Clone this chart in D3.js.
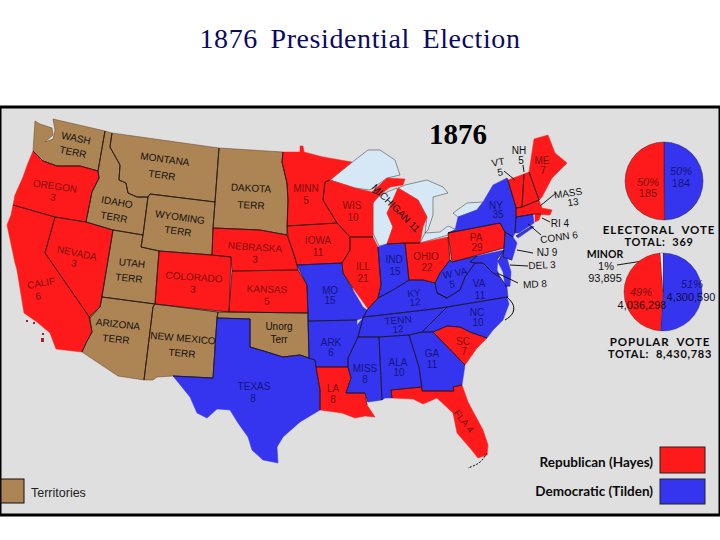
<!DOCTYPE html>
<html>
<head>
<meta charset="utf-8">
<title>1876 Presidential Election</title>
<script src="https://cdnjs.cloudflare.com/ajax/libs/d3/7.8.5/d3.min.js"></script>
<style>
  html, body { margin: 0; padding: 0; background: #fff; }
  svg { display: block; }
  text { font-family: "Liberation Sans", sans-serif; }
</style>
</head>
<body>
<svg id="chart" width="720" height="540"></svg>
<script>
// party per state, electoral votes, from the map
var republican = ['OREGON', 'CALIF', 'NEVADA', 'COLORADO', 'NEBRASKA', 'KANSAS', 'MINN', 'IOWA', 'WIS', 'ILL', 'MICHIGAN', 'UPPERMICH', 'OHIO', 'PA', 'VT', 'NH', 'ME', 'MASS', 'RI', 'SC', 'LA', 'FLA'];
var democratic = ['TEXAS', 'MO', 'ARK', 'MISS', 'ALA', 'GA', 'TENN', 'KY', 'IND', 'WVA', 'VA', 'NC', 'NY', 'LONGISLAND', 'NJ', 'CONN', 'DEL', 'MD'];
var territories = ['WASH', 'IDAHO', 'MONTANA', 'DAKOTA', 'WYOMING', 'UTAH', 'ARIZONA', 'NEWMEXICO', 'UNORG'];

var electoralVotes = [184, 185];
var popularVotes = [4300590, 4036298, 93895];

// outlines are in map units
var lakes = [
  [[330,180],[345,168],[355,160],[368,150],[380,150],[395,160],[400,175],[387,178],[370,190],[355,188]],
  [[373,200],[387,192],[397,188],[398,195],[387,213],[393,227],[387,244],[379,246],[373,233],[373,210]],
  [[398,188],[405,185],[427,180],[443,187],[448,193],[433,197],[433,215],[428,230],[425,233],[427,217],[418,200]],
  [[420,243],[425,233],[440,232],[448,226],[457,230],[448,235]],
  [[453,213],[467,203],[483,202],[477,210],[458,217]]
];

var outlines = {
  WASH: [[35,121],[40,124],[52,128],[53,135],[45,142],[53,139],[55,130],[53,119],[105,131],[98,171],[80,166],[57,166],[43,161],[33,151]],
  OREGON: [[33,151],[43,161],[57,166],[80,166],[98,171],[99,178],[92,192],[86,222],[55,217],[13,205],[15,195],[23,177],[28,163]],
  CALIF: [[13,205],[55,217],[45,253],[90,318],[92,332],[86,343],[82,352],[56,349],[50,333],[37,322],[24,313],[17,270],[15,263],[7,225],[11,215]],
  NEVADA: [[55,217],[86,222],[113,230],[100,307],[90,318],[45,253]],
  IDAHO: [[105,131],[112,133],[110,147],[120,165],[119,180],[126,183],[128,193],[137,197],[148,197],[143,235],[113,230],[86,222],[92,192],[99,178],[98,171]],
  MONTANA: [[112,133],[219,148],[215,202],[150,194],[148,197],[137,197],[128,193],[126,183],[119,180],[120,165],[110,147]],
  DAKOTA: [[219,148],[283,152],[282,162],[287,183],[288,200],[287,235],[260,230],[213,228],[215,202]],
  WYOMING: [[150,194],[215,202],[213,228],[212,255],[159,251],[141,247],[143,235],[148,197]],
  UTAH: [[113,230],[143,235],[141,247],[159,251],[155,304],[102,297]],
  COLORADO: [[159,251],[212,255],[231,257],[229,312],[155,304]],
  NEBRASKA: [[213,228],[260,230],[287,235],[295,257],[298,270],[232,271],[231,257],[212,255]],
  KANSAS: [[232,271],[298,270],[307,285],[308,313],[229,312]],
  ARIZONA: [[102,297],[155,304],[153,307],[144,380],[118,376],[82,352],[86,343],[92,332],[89,317],[100,307]],
  NEWMEXICO: [[155,304],[218,312],[217,318],[213,378],[173,376],[157,377],[153,380],[144,380],[153,307]],
  UNORG: [[218,312],[229,312],[308,313],[309,358],[300,355],[283,357],[267,352],[250,347],[250,319],[217,318]],
  TEXAS: [[217,318],[250,319],[250,347],[267,352],[283,357],[300,355],[309,358],[315,360],[316,367],[320,390],[320,410],[300,422],[283,437],[277,447],[278,463],[263,460],[252,450],[248,437],[238,423],[230,410],[217,409],[207,418],[197,413],[190,397],[173,376],[213,378]],
  MINN: [[283,152],[300,152],[300,146],[303,146],[304,152],[323,157],[352,162],[330,180],[325,182],[323,200],[337,223],[287,226],[288,200],[287,183],[282,162]],
  WIS: [[325,182],[330,180],[355,188],[372,192],[380,195],[373,203],[373,237],[350,237],[337,223],[323,200]],
  IOWA: [[287,226],[337,223],[350,237],[350,250],[342,263],[297,265],[288,237]],
  MO: [[297,265],[342,263],[343,273],[353,290],[363,307],[367,310],[363,318],[357,320],[308,321],[308,313],[307,285]],
  ARK: [[308,321],[357,320],[357,325],[363,318],[358,337],[348,358],[348,367],[316,367],[315,360],[309,358]],
  LA: [[316,367],[348,367],[351,378],[346,393],[365,393],[367,405],[375,417],[365,416],[355,418],[342,413],[320,410],[320,390]],
  MISS: [[358,337],[379,337],[382,400],[368,402],[365,393],[346,393],[351,378],[348,367],[348,358]],
  ALA: [[379,337],[409,335],[419,367],[422,387],[391,390],[392,398],[385,398],[382,400]],
  TENN: [[364,317],[425,310],[447,307],[422,332],[409,335],[379,337],[358,337],[363,318]],
  GA: [[409,335],[422,332],[433,332],[465,365],[462,385],[453,387],[454,391],[422,391],[419,367]],
  SC: [[433,332],[447,326],[460,327],[470,332],[487,338],[477,348],[465,365]],
  NC: [[447,307],[507,297],[509,304],[503,320],[493,330],[487,338],[470,332],[460,327],[447,326],[433,332],[422,332]],
  FLA: [[391,390],[422,387],[422,391],[454,391],[453,387],[462,385],[468,402],[483,430],[488,445],[487,455],[478,458],[470,448],[457,433],[453,413],[437,398],[423,404],[413,399],[392,398]],
  KY: [[363,318],[367,310],[378,298],[393,290],[409,280],[423,280],[435,283],[437,293],[447,298],[425,310],[364,317]],
  ILL: [[350,237],[373,237],[378,247],[381,285],[378,298],[368,309],[363,302],[353,288],[343,273],[342,263],[350,250]],
  IND: [[378,247],[387,244],[405,243],[409,280],[393,290],[378,298],[381,285]],
  OHIO: [[405,243],[420,243],[448,237],[450,260],[440,273],[435,283],[423,280],[409,280]],
  PA: [[448,233],[500,223],[505,232],[504,248],[452,262]],
  NY: [[455,230],[458,217],[477,210],[483,202],[493,185],[507,178],[516,207],[516,217],[515,233],[513,237],[505,232],[500,223],[448,233]],
  LONGISLAND: [[516,236],[532,226],[534,227],[518,238]],
  NJ: [[505,232],[513,237],[517,243],[512,260],[503,257],[504,248]],
  WVA: [[450,260],[452,262],[477,256],[470,262],[475,263],[465,277],[460,290],[447,298],[437,293],[435,283],[440,273]],
  VA: [[437,293],[447,298],[460,290],[465,277],[475,263],[483,263],[493,273],[500,277],[507,287],[508,297],[507,297],[447,307],[425,310]],
  MD: [[477,256],[504,250],[498,258],[497,270],[500,277],[493,273],[483,263],[475,263],[470,262]],
  DEL: [[504,250],[507,258],[511,272],[510,286],[505,286],[503,272],[498,262]],
  VT: [[508,180],[524,174],[522,207],[516,208]],
  NH: [[524,174],[529,172],[539,200],[522,207]],
  ME: [[529,172],[534,139],[548,135],[555,153],[567,163],[552,178],[542,197],[539,200]],
  MASS: [[516,208],[522,207],[539,200],[542,208],[552,210],[550,215],[535,214],[516,217]],
  CONN: [[516,217],[533,214],[534,223],[519,233],[515,233]],
  RI: [[535,214],[541,214],[539,220],[535,222]],
  UPPERMICH: [[372,192],[387,178],[405,179],[403,185],[390,187],[380,195]],
  MICHIGAN: [[387,213],[398,188],[418,200],[427,217],[423,227],[420,243],[405,243],[387,244],[393,227]]
};

var islands = [
  [[26,320],[28,320],[28,322],[26,322]],
  [[33,322],[35,322],[35,324],[33,324]],
  [[42,333],[44,333],[44,335],[42,335]],
  [[41,338],[44,338],[44,342],[41,342]]
];

// centre of the first line, second line text, tilt
var stateLabels = [
  ['WASH', 'TERR', 76, 138, 73, 152, 12], ['OREGON', '3', 55, 186, 53, 197, 8], ['IDAHO', 'TERR', 117, 202, 114, 217, 10],
  ['MONTANA', 'TERR', 165, 159, 162, 175, 8], ['DAKOTA', 'TERR', 251, 188, 251, 205, 3], ['WYOMING', 'TERR', 180, 217, 178, 231, 8],
  ['NEBRASKA', '3', 255, 247, 255, 259, 4], ['NEVADA', '3', 77, 253, 74, 263, 12], ['UTAH', 'TERR', 132, 263, 129, 278, 6],
  ['COLORADO', '3', 194, 277, 193, 289, 4], ['KANSAS', '5', 267, 289, 267, 301, 2], ['CALIF', '6', 41, 283, 38, 296, -10],
  ['ARIZONA', 'TERR', 118, 324, 116, 339, 6], ['NEW MEXICO', 'TERR', 183, 338, 182, 353, 5], ['Unorg', 'Terr', 279, 326, 279, 339, 0],
  ['TEXAS', '8', 254, 386, 253, 398, 0], ['MINN', '5', 306, 188, 306, 200, 0], ['WIS', '10', 352, 205, 353, 217, 0],
  ['IOWA', '11', 318, 240, 318, 252, 0], ['ILL', '21', 363, 266, 363, 278, 0], ['IND', '15', 394, 259, 395, 271, 0],
  ['OHIO', '22', 426, 256, 427, 267, 0], ['MO', '15', 330, 290, 330, 300, 0], ['MICHIGAN 11', '', 396, 208, 0, 0, 45],
  ['PA', '29', 476, 237, 477, 247, 0], ['NY', '35', 496, 205, 498, 214, 0], ['W VA', '5', 455, 273, 452, 284, -10],
  ['VA', '11', 479, 283, 480, 295, 0], ['KY', '12', 414, 293, 415, 302, -5], ['ME', '7', 542, 160, 543, 170, 0],
  ['NH', '5', 519, 150, 521, 160, 0], ['VT', '5', 498, 162, 500, 172, -10], ['MASS', '13', 568, 193, 573, 202, -8],
  ['RI 4', '', 560, 223, 0, 0, 0], ['CONN 6', '', 559, 237, 0, 0, -8], ['NJ 9', '', 547, 252, 0, 0, 0],
  ['DEL 3', '', 542, 265, 0, 0, -3], ['MD 8', '', 535, 284, 0, 0, -3], ['TENN', '12', 398, 320, 398, 329, -5],
  ['NC', '10', 477, 312, 478, 322, 0], ['ARK', '6', 331, 342, 331, 352, 0], ['MISS', '8', 365, 368, 365, 379, 0],
  ['ALA', '10', 398, 362, 399, 372, 0], ['GA', '11', 432, 353, 432, 364, 0], ['SC', '7', 463, 341, 464, 351, 0],
  ['LA', '8', 333, 388, 333, 399, 0], ['FLA 4', '', 464, 421, 0, 0, 52]
];
var blackLabels = ['NH', 'VT', 'MASS', 'RI 4', 'CONN 6', 'NJ 9', 'DEL 3', 'MD 8', 'MICHIGAN 11'];

var leaders = [
  [[504,171],[515,180]], [[523,165],[524,172]], [[556,193],[540,206]], [[550,222],[542,218]],
  [[541,235],[528,224]], [[533,253],[517,250]], [[528,266],[510,265]], [[518,283],[497,273]], [[617,265],[662,258]]
];
var outerBanks = [[507,297],[515,305],[513,315],[505,320]];
var floridaKeys = [[487,453],[482,461],[476,465],[468,468]];

var colors = { rep: '#fe1a1a', dem: '#3535f0', terr: '#ad8453', bg: '#dfdfdf', lake: '#d6e8f5' };

var svg = d3.select('#chart');
var path = d3.geoPath(d3.geoIdentity());
var line = d3.line();

function ring(points) {
  return { type: 'Polygon', coordinates: [points.concat([points[0]])] };
}
function partyOf(name) {
  if (republican.indexOf(name) >= 0) return 'rep';
  if (democratic.indexOf(name) >= 0) return 'dem';
  return 'terr';
}

// distance from a point to a segment, used to find borders between states
function segDist(p, a, b) {
  var dx = b[0] - a[0], dy = b[1] - a[1];
  var t = Math.max(0, Math.min(1, ((p[0] - a[0]) * dx + (p[1] - a[1]) * dy) / (dx * dx + dy * dy || 1)));
  return Math.hypot(p[0] - a[0] - t * dx, p[1] - a[1] - t * dy);
}
function touchesOther(name, p) {
  return Object.keys(outlines).some(function (other) {
    if (other === name) return false;
    var pts = outlines[other];
    return pts.some(function (a, i) { return segDist(p, a, pts[(i + 1) % pts.length]) < 1.2; });
  });
}
// only the edges shared with a neighbour get the black line, coasts stay bare
function innerBorders(name) {
  var pts = outlines[name], segs = [];
  pts.forEach(function (a, i) {
    var b = pts[(i + 1) % pts.length];
    var mid = [(a[0] + b[0]) / 2, (a[1] + b[1]) / 2];
    if (touchesOther(name, mid)) segs.push([a, b]);
  });
  return { type: 'MultiLineString', coordinates: segs };
}

svg.append('text').attr('x', 360).attr('y', 48).attr('text-anchor', 'middle')
  .style('font-family', '"Liberation Serif", serif').style('font-size', '28px').style('word-spacing', '5px')
  .style('letter-spacing', '0.6px').attr('fill', '#0a0a60')
  .text('1876 Presidential Election');

svg.append('rect').attr('x', 0).attr('y', 107).attr('width', 720).attr('height', 408)
  .attr('fill', colors.bg).attr('stroke', '#000').attr('stroke-width', 3);

svg.selectAll('.lake').data(lakes).enter().append('path').attr('class', 'lake')
  .attr('d', function (d) { return path(ring(d)); })
  .attr('fill', colors.lake).attr('stroke', '#333').attr('stroke-width', 0.5);

var names = Object.keys(outlines);
svg.selectAll('.state').data(names).enter().append('path').attr('class', 'state')
  .attr('d', function (d) { return path(ring(outlines[d])); })
  .attr('fill', function (d) { return colors[partyOf(d)]; })
  .attr('stroke', function (d) { return territories.indexOf(d) >= 0 ? '#5a4028' : colors[partyOf(d)]; })
  .attr('stroke-width', 0.5).attr('stroke-linejoin', 'round');

svg.selectAll('.border').data(names).enter().append('path').attr('class', 'border')
  .attr('d', function (d) { return path(innerBorders(d)); })
  .attr('fill', 'none').attr('stroke', '#1a1010').attr('stroke-width', 0.6);

svg.selectAll('.island').data(islands).enter().append('path').attr('class', 'island')
  .attr('d', function (d) { return path(ring(d)); }).attr('fill', '#a02030');

svg.selectAll('.leader').data(leaders).enter().append('path').attr('class', 'leader')
  .attr('d', function (d) { return line(d); }).attr('stroke', '#000').attr('stroke-width', 0.9);

svg.append('path').attr('d', d3.line().curve(d3.curveBasis)(outerBanks))
  .attr('fill', 'none').attr('stroke', '#000').attr('stroke-width', 1);
svg.append('path').attr('d', d3.line().curve(d3.curveBasis)(floridaKeys))
  .attr('fill', 'none').attr('stroke', '#000').attr('stroke-width', 1).attr('stroke-dasharray', '2 1.5');

// text colour depends on what is under the label
function labelFill(d) {
  if (blackLabels.indexOf(d[0]) >= 0) return '#111';
  var key = d[0].replace(' ', '').replace(/\d+$/, '');
  var party = partyOf(key);
  if (party === 'rep') return '#7e0c0c';
  if (party === 'dem') return '#14147a';
  return '#111';
}

var labels = svg.selectAll('.stateLabel').data(stateLabels).enter().append('g').attr('class', 'stateLabel');
labels.append('text')
  .attr('transform', function (d) { return 'translate(' + d[2] + ',' + d[3] + ') rotate(' + d[6] + ')'; })
  .attr('text-anchor', 'middle').attr('dy', '0.36em')
  .style('font-size', '10px').attr('fill', labelFill)
  .text(function (d) { return d[0]; });
labels.filter(function (d) { return d[1] !== ''; }).append('text')
  .attr('transform', function (d) { return 'translate(' + d[4] + ',' + d[5] + ') rotate(' + d[6] + ')'; })
  .attr('text-anchor', 'middle').attr('dy', '0.36em')
  .style('font-size', '10px').attr('fill', labelFill)
  .text(function (d) { return d[1]; });

svg.append('text').attr('x', 458).attr('y', 144).attr('text-anchor', 'middle')
  .style('font-family', '"Liberation Serif", serif').style('font-weight', 'bold').style('font-size', '29px')
  .text('1876');

// pies
var pie = d3.pie().sort(null);
var arc = d3.arc().innerRadius(0).outerRadius(39);

svg.append('g').attr('transform', 'translate(664,181)')
  .selectAll('path').data(pie(electoralVotes)).enter().append('path')
  .attr('d', arc).attr('fill', function (d, i) { return [colors.dem, colors.rep][i]; })
  .attr('stroke', '#1a1010').attr('stroke-width', 0.4);

svg.append('g').attr('transform', 'translate(663,292)')
  .selectAll('path').data(pie(popularVotes)).enter().append('path')
  .attr('d', arc).attr('fill', function (d, i) { return [colors.dem, colors.rep, '#fff'][i]; })
  .attr('stroke', '#1a1010').attr('stroke-width', 0.3);

function note(txt, x, y, size, fill, italic, anchor) {
  svg.append('text').attr('x', x).attr('y', y).attr('dy', '0.36em').attr('text-anchor', anchor || 'middle')
    .style('font-size', size + 'px').style('font-style', italic ? 'italic' : 'normal').attr('fill', fill).text(txt);
}
note('50%', 648, 182, 11, '#7e0c0c', true);
note(electoralVotes[1], 648, 193, 11, '#7e0c0c');
note('50%', 681, 171, 11, '#14147a', true);
note(electoralVotes[0], 681, 183, 11, '#14147a');
note('49%', 641, 292, 11, '#7e0c0c', true);
note(d3.format(',')(popularVotes[1]), 642, 305, 11, '#2a0808');
note('51%', 692, 284, 11, '#14147a', true);
note(d3.format(',')(popularVotes[0]), 691, 297, 11, '#0c0c40');
note('1%', 606, 266, 11, '#111');
note(d3.format(',')(popularVotes[2]), 605, 278, 11, '#111');

function heading(txt, x, y, size, anchor, spacing) {
  svg.append('text').attr('x', x).attr('y', y).attr('dy', '0.36em').attr('text-anchor', anchor || 'middle')
    .style('font-family', 'Lato, sans-serif').style('font-weight', 'bold').style('font-size', size + 'px')
    .style('letter-spacing', (spacing || 0) + 'px').style('white-space', 'pre')
    .attr('fill', '#0a0a0a').text(txt);
}
heading('MINOR', 605, 254, 10.5, 'middle', 0);
heading('ELECTORAL  VOTE', 659, 230, 11.5, 'middle', 0.9);
heading('TOTAL:  369', 659, 242, 11, 'middle', 0.7);
heading('POPULAR  VOTE', 660, 342, 11.5, 'middle', 0.9);
heading('TOTAL:  8,430,783', 660, 354, 11, 'middle', 0.7);

// legend
heading('Republican (Hayes)', 653, 462, 13.5, 'end', 0);
heading('Democratic (Tilden)', 653, 491, 13.5, 'end', 0);
svg.append('rect').attr('x', 660).attr('y', 447).attr('width', 45).attr('height', 26).attr('fill', colors.rep).attr('stroke', '#222');
svg.append('rect').attr('x', 660).attr('y', 479).attr('width', 45).attr('height', 25).attr('fill', colors.dem).attr('stroke', '#222');
svg.append('rect').attr('x', 1).attr('y', 479).attr('width', 23).attr('height', 24).attr('fill', colors.terr).attr('stroke', '#111');
svg.append('text').attr('x', 31).attr('y', 492).attr('dy', '0.36em').style('font-size', '12.5px').attr('fill', '#222').text('Territories');
</script>
</body>
</html>
